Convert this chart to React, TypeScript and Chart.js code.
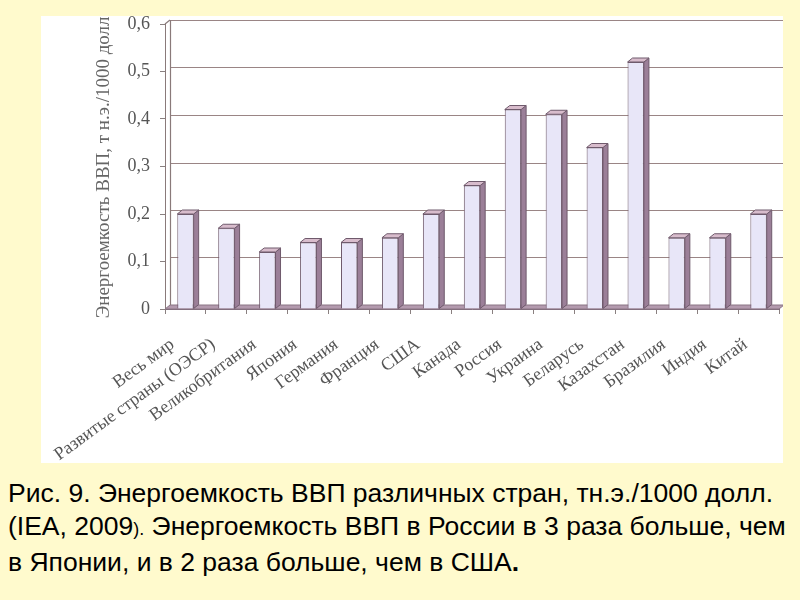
import React, { useEffect, useRef } from "react";
import { Chart, registerables } from "chart.js";

Chart.register(...registerables);

const categories = [
  "Весь мир",
  "Развитые страны (ОЭСР)",
  "Великобритания",
  "Япония",
  "Германия",
  "Франция",
  "США",
  "Канада",
  "Россия",
  "Украина",
  "Беларусь",
  "Казахстан",
  "Бразилия",
  "Индия",
  "Китай",
];
const values = [0.2, 0.17, 0.12, 0.14, 0.14, 0.15, 0.2, 0.26, 0.42, 0.41, 0.34, 0.52, 0.15, 0.15, 0.2];
const yTickValues = [0, 0.1, 0.2, 0.3, 0.4, 0.5, 0.6];
const yTitle = "Энергоемкость ВВП, т н.э./1000 долл.";

const DX = 5;
const DY = 4;
const SERIF = "'Liberation Serif', 'DejaVu Serif', serif";

const depthPlugin = {
  id: "depth3d",
  beforeDatasetsDraw(chart: any) {
    const { ctx, chartArea } = chart;
    const y = chart.scales.y;
    const { left, right, bottom } = chartArea;
    ctx.save();
    // floor
    ctx.beginPath();
    ctx.moveTo(left, bottom);
    ctx.lineTo(right, bottom);
    ctx.lineTo(right + DX, bottom - DY);
    ctx.lineTo(left + DX, bottom - DY);
    ctx.closePath();
    ctx.fillStyle = "#b39aae";
    ctx.fill();
    ctx.strokeStyle = "#8a7584";
    ctx.lineWidth = 1;
    ctx.stroke();
    // back wall gridlines
    ctx.strokeStyle = "#9a8585";
    ctx.lineWidth = 1.2;
    yTickValues.forEach((v) => {
      if (v === 0) return;
      const py = Math.round(y.getPixelForValue(v) - DY) + 0.5;
      ctx.beginPath();
      ctx.moveTo(left + DX, py);
      ctx.lineTo(right + DX, py);
      ctx.stroke();
    });
    // back wall left edge
    const topPy = y.getPixelForValue(yTickValues[yTickValues.length - 1]) - DY;
    ctx.beginPath();
    ctx.moveTo(left + DX + 0.5, topPy);
    ctx.lineTo(left + DX + 0.5, bottom - DY);
    ctx.strokeStyle = "#8a7a7a";
    ctx.stroke();
    ctx.beginPath();
    ctx.moveTo(left, topPy + DY);
    ctx.lineTo(left + DX, topPy);
    ctx.stroke();
    ctx.restore();
  },
  afterDatasetsDraw(chart: any) {
    const { ctx } = chart;
    const meta = chart.getDatasetMeta(0);
    ctx.save();
    ctx.lineWidth = 1;
    ctx.strokeStyle = "#6f5a6c";
    meta.data.forEach((bar: any) => {
      const w = bar.width;
      const xl = bar.x - w / 2;
      const xr = bar.x + w / 2;
      const yt = bar.y;
      const yb = bar.base;
      // side face
      ctx.beginPath();
      ctx.moveTo(xr, yt);
      ctx.lineTo(xr + DX, yt - DY);
      ctx.lineTo(xr + DX, yb - DY);
      ctx.lineTo(xr, yb);
      ctx.closePath();
      ctx.fillStyle = "#9b7f98";
      ctx.fill();
      ctx.stroke();
      // top face
      ctx.beginPath();
      ctx.moveTo(xl, yt);
      ctx.lineTo(xl + DX, yt - DY);
      ctx.lineTo(xr + DX, yt - DY);
      ctx.lineTo(xr, yt);
      ctx.closePath();
      ctx.fillStyle = "#d8bccc";
      ctx.fill();
      ctx.stroke();
    });
    ctx.restore();
  },
  afterDraw(chart: any) {
    const { ctx } = chart;
    ctx.save();
    ctx.translate(63, 149);
    ctx.rotate(-Math.PI / 2);
    ctx.font = `19px ${SERIF}`;
    ctx.fillStyle = "#666666";
    ctx.textAlign = "center";
    ctx.textBaseline = "middle";
    ctx.fillText(yTitle, 0, 0);
    ctx.restore();
  },
};

function ChartPanel() {
  const ref = useRef<HTMLCanvasElement | null>(null);
  useEffect(() => {
    if (!ref.current) return;
    const chart = new Chart(ref.current, {
      type: "bar",
      data: {
        labels: categories,
        datasets: [
          {
            data: values,
            backgroundColor: "#e8e6f8",
            borderColor: "#6f5a6c",
            borderWidth: 1,
            barPercentage: 0.4,
            categoryPercentage: 1,
          },
        ],
      },
      plugins: [depthPlugin],
      options: {
        animation: false,
        responsive: false,
        maintainAspectRatio: false,
        layout: { padding: { left: 45, right: 4, top: 8, bottom: 0 } },
        plugins: {
          legend: { display: false },
          tooltip: { enabled: false },
        },
        scales: {
          x: {
            offset: true,
            grid: {
              offset: true,
              drawOnChartArea: false,
              drawTicks: true,
              tickLength: 5,
              color: "#8a8080",
            },
            border: { display: true, color: "#7d6a78" },
            ticks: {
              autoSkip: false,
              maxRotation: 36,
              minRotation: 36,
              padding: 20,
              labelOffset: -13,
              color: "#555555",
              font: { family: SERIF, size: 18 },
            },
            afterFit(scale: any) {
              scale.height = 154;
              scale.paddingLeft = 0;
              scale.paddingRight = 0;
            },
          },
          y: {
            min: 0,
            max: 0.6,
            afterBuildTicks(scale: any) {
              scale.ticks = yTickValues.map((v) => ({ value: v }));
            },
            grid: {
              drawOnChartArea: false,
              drawTicks: true,
              tickLength: 5,
              color: "#8a8080",
            },
            border: { display: true, color: "#8a7a7a" },
            ticks: {
              padding: 10,
              color: "#555555",
              font: { family: SERIF, size: 18 },
              callback: (v: any) => (Number(v) === 0 ? "0" : Number(v).toFixed(1).replace(".", ",")),
            },
            afterFit(scale: any) {
              scale.width = 79;
              scale.paddingTop = 0;
              scale.paddingBottom = 0;
            },
          },
        },
      },
    });
    return () => chart.destroy();
  }, []);
  return <canvas ref={ref} width={742} height={447} style={{ display: "block" }} />;
}

export default function App() {
  return (
    <div
      style={{
        position: "fixed",
        left: 0,
        top: 0,
        width: 800,
        height: 600,
        background: "#fffacd",
        overflow: "hidden",
      }}
    >
      <div style={{ position: "absolute", left: 41, top: 16, width: 742, height: 447, background: "#ffffff" }}>
        <ChartPanel />
      </div>
      <div
        style={{
          position: "absolute",
          left: 8,
          top: 477,
          width: 792,
          fontFamily: "'Liberation Sans', Arial, sans-serif",
          fontSize: 26.5,
          lineHeight: "33px",
          color: "#000000",
          whiteSpace: "nowrap",
        }}
      >
        <div>Рис. 9. Энергоемкость ВВП различных стран, тн.э./1000 долл.</div>
        <div>
          (IEA, 2009<span style={{ fontSize: 18 }}>).</span> Энергоемкость ВВП в России в 3 раза больше, чем
        </div>
        <div>
          в Японии, и в 2 раза больше, чем в США<b>.</b>
        </div>
      </div>
    </div>
  );
}
